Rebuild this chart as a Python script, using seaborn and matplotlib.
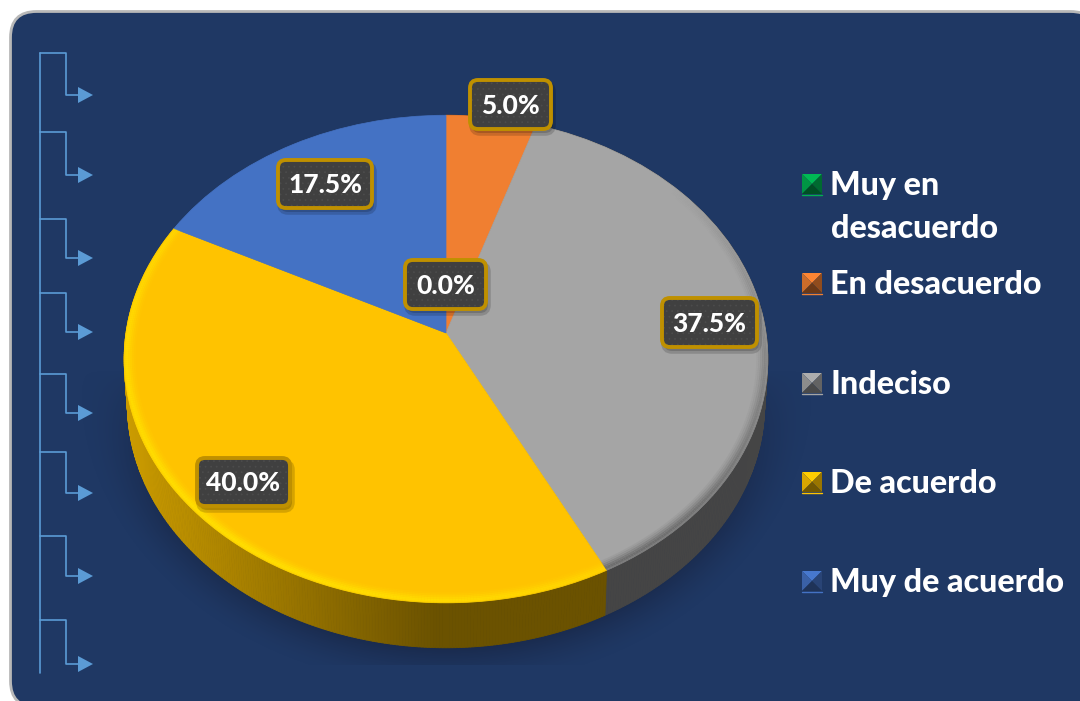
import numpy as np
import matplotlib
matplotlib.use("Agg")
import matplotlib.pyplot as plt
import seaborn as sns
from matplotlib.collections import LineCollection, PolyCollection
from matplotlib.patches import FancyBboxPatch, Polygon
from matplotlib.transforms import Transform

# Chart data
categories = ["Muy en desacuerdo", "En desacuerdo", "Indeciso", "De acuerdo", "Muy de acuerdo"]
legend_labels = ["Muy en\ndesacuerdo", "En desacuerdo", "Indeciso", "De acuerdo", "Muy de acuerdo"]
percentages = [0.0, 5.0, 37.5, 40.0, 17.5]
slice_colors = ["#00b050", "#f07f31", "#a5a5a5", "#ffc300", "#4472c4"]
rim_colors = [None, None, "#5f5f5f", "#ffe900", None]

# Where the value boxes sit (pixels): left, top, right, bottom
label_boxes = [(405, 260, 486, 309), (470, 80, 551, 129), (662, 298, 757, 347),
               (197, 458, 290, 506), (278, 160, 372, 208)]

# Decoration on the left edge
tree_tops = [53, 132, 219, 293, 374, 452, 536, 620]
tree_arrows = [95, 175, 258, 332, 413, 493, 576, 664]

# Legend rows (pixel y of the swatch centre)
legend_rows = [184, 283, 383, 482, 581]

# Pie geometry in pixels
cx, cy = 446, 333
ax_x, ax_y, tilt = 320, 241, 0.1066
depth = 45
bg = "#1f3864"


class TiltedDisc(Transform):
    """Maps the unit pie onto the tilted disc in pixel coordinates."""
    input_dims = 2
    output_dims = 2

    def transform_non_affine(self, values):
        values = np.asarray(values, dtype=float)
        w = 1 + tilt * values[:, 1]
        return np.column_stack([cx + ax_x * values[:, 0] / w, cy - ax_y * values[:, 1] / w])


def dim(color, f):
    return tuple(np.array(matplotlib.colors.to_rgb(color)) * f)


sns.set_theme(style="white")
palette = sns.color_palette(slice_colors)
plt.rcParams["font.family"] = ["Lato", "DejaVu Sans"]
plt.rcParams["hatch.linewidth"] = 0.5

fig = plt.figure(figsize=(10.8, 7.01), dpi=100, facecolor="white")
ax = fig.add_axes([0, 0, 1, 1])
disc = TiltedDisc()

wedges, _ = ax.pie(percentages, colors=palette, startangle=90, counterclock=False, radius=1)
for w, col in zip(wedges, palette):
    w.set_transform(disc + ax.transData)
    w.set_zorder(5)
    w.set_edgecolor(col)
    w.set_linewidth(0.5 if w.theta2 > w.theta1 else 0)

ax.set_aspect("auto")
ax.axis("off")

# Card
ax.add_patch(FancyBboxPatch((10.5, 11.5), 1086, 695.5, boxstyle="round,pad=0,rounding_size=26",
                            fc=bg, ec="#b8b8b8", lw=2, zorder=0.5))

# Soft shadow under the disc, only from the widest part downwards
yy, xx = np.mgrid[0:701, 0:1080]
dist = np.sqrt(((xx - 446) / 322.0) ** 2 + ((yy - 380) / 268.0) ** 2)
alpha = np.clip((1.15 - dist) / 0.15, 0, 1) ** 1.6 * 0.55
alpha *= np.clip((yy - 370) / 160.0, 0, 1) ** 0.7
alpha[yy > 664] = 0
shadow = np.zeros((701, 1080, 4))
shadow[..., :3] = matplotlib.colors.to_rgb("#16213d")
shadow[..., 3] = alpha
ax.imshow(shadow, extent=(0, 1080, 701, 0), aspect="auto", zorder=1, interpolation="bilinear")
ax.set_xlim(0, 1080)
ax.set_ylim(701, 0)

# Side wall and rim of the disc, slice by slice
for w, col, rim in zip(wedges, palette, rim_colors):
    if w.theta2 - w.theta1 <= 0:
        continue
    t = np.radians(np.arange(w.theta1, w.theta2 + 0.5, 0.5))
    top = disc.transform_non_affine(np.column_stack([np.cos(t), np.sin(t)]))
    low = top.copy()
    low[:, 0] = cx + (top[:, 0] - cx) * 0.99
    low[:, 1] += depth
    quads, shades = [], []
    for i in range(len(t) - 1):
        quads.append([top[i], top[i + 1], low[i + 1], low[i]])
        f = np.clip(0.8 - 0.38 * (top[i, 0] - 124) / 310, 0.42, 1)
        shades.append(dim(col, f))
    ax.add_collection(PolyCollection(quads, facecolors=shades, edgecolors=shades, linewidths=0.6, zorder=3))

    if rim is None:
        continue
    for r, a in [(0.998, 0.55), (0.992, 0.75), (0.986, 0.6), (0.98, 0.4), (0.974, 0.22), (0.968, 0.1)]:
        ring = disc.transform_non_affine(np.column_stack([r * np.cos(t), r * np.sin(t)]))
        segs = np.stack([ring[:-1], ring[1:]], axis=1)
        # strongest toward the lower left, weak along the front
        strength = np.clip(0.3 - np.sin(t[:-1]) * 0.45 - np.cos(t[:-1]) * 0.45, 0, 1) * a
        if rim == "#5f5f5f":
            strength = np.clip(0.45 - np.sin(t[:-1]) * 0.7, 0, 1) * a
        cols = [matplotlib.colors.to_rgba(rim, s) for s in strength]
        ax.add_collection(LineCollection(segs, colors=cols, linewidths=1.6, zorder=6))

# Value boxes
for (x0, y0, x1, y1), value in zip(label_boxes, percentages):
    rs = 8
    ax.add_patch(FancyBboxPatch((x0 + 2, y0 + 4), x1 - x0, y1 - y0, boxstyle=f"round,pad=0,rounding_size={rs}",
                                fc="#000000", ec="#000000", lw=4, alpha=0.16, zorder=7))
    ax.add_patch(FancyBboxPatch((x0, y0), x1 - x0, y1 - y0, boxstyle=f"round,pad=0,rounding_size={rs}",
                                fc="#404040", ec="#4c4c4c", lw=0, hatch="...", zorder=8))
    ax.add_patch(FancyBboxPatch((x0, y0), x1 - x0, y1 - y0, boxstyle=f"round,pad=0,rounding_size={rs}",
                                fc="none", ec="#bf9000", lw=2.8, zorder=9))
    ax.text((x0 + x1) / 2, (y0 + y1) / 2 + 1, f"{value:.1f}%", color="white", fontsize=19, fontweight="black",
            ha="center", va="center", zorder=10)

# Legend
for y, label, col in zip(legend_rows, legend_labels, palette):
    x0, x1 = 802, 822
    y0, y1 = y - 10, y + 10
    mx, my = (x0 + x1) / 2, (y0 + y1) / 2
    lit = tuple(np.minimum(np.array(col) * 1.05, 1))
    ax.add_patch(Polygon([(x0, y0), (x1, y0), (mx, my)], fc=lit, ec="none", zorder=5))
    ax.add_patch(Polygon([(x0, y0), (x0, y1), (mx, my)], fc=dim(col, 0.85), ec="none", zorder=5))
    ax.add_patch(Polygon([(x1, y0), (x1, y1), (mx, my)], fc=dim(col, 0.6), ec="none", zorder=5))
    ax.add_patch(Polygon([(x0, y1), (x1, y1), (mx, my)], fc=dim(col, 0.45), ec="none", zorder=5))
    ax.plot([x0, x1], [y1 + 0.5, y1 + 0.5], color=col, lw=1, zorder=5)
    lines = label.split("\n")
    for i, line in enumerate(lines):
        ax.text(830.5, y + 1.5 + i * 43, line, color="white", fontsize=23.2, fontweight="black",
                ha="left", va="center", zorder=5)

# Brackets and arrows on the left
tree_col = "#5b9bd5"
ax.plot([40, 40], [tree_tops[0], 673], color=tree_col, lw=1.2, zorder=2)
for top_y, arrow_y in zip(tree_tops, tree_arrows):
    ax.plot([40, 66, 66, 80], [top_y, top_y, arrow_y, arrow_y], color=tree_col, lw=1.2, zorder=2)
    ax.add_patch(Polygon([(78, arrow_y - 8), (93, arrow_y), (78, arrow_y + 8)], fc=tree_col, ec="none", zorder=2))

fig.savefig("out.png", dpi=100, facecolor="white")
